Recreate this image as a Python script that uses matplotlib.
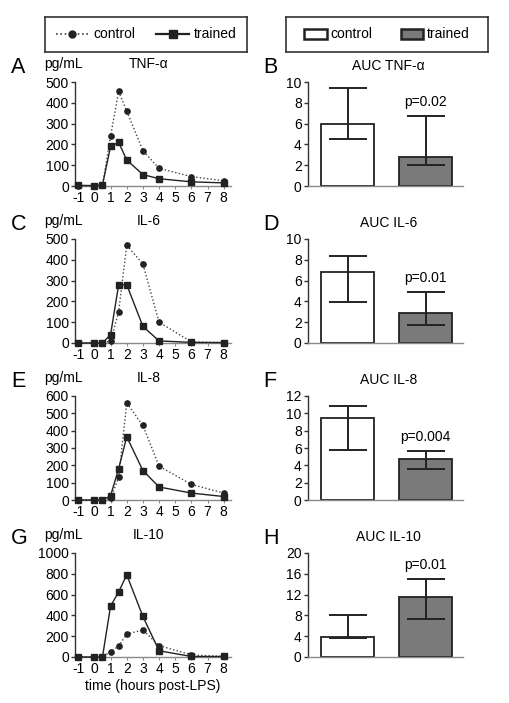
import matplotlib
matplotlib.use("Agg")
import matplotlib.pyplot as plt
from matplotlib.lines import Line2D
from matplotlib.patches import Patch
import numpy as np

plt.rcParams['font.family'] = ['Liberation Sans', 'DejaVu Sans']
plt.rcParams['font.size'] = 10
plt.rcParams['axes.unicode_minus'] = False

# time course (hours post-LPS)
hours = [-1, 0, 0.5, 1, 1.5, 2, 3, 4, 6, 8]

tnf_control = [0, 0, 5, 240, 455, 360, 170, 85, 45, 25]
tnf_trained = [3, 2, 5, 190, 210, 125, 55, 35, 20, 15]
il6_control = [0, 0, 0, 10, 150, 470, 380, 100, 5, 2]
il6_trained = [0, 0, 0, 40, 280, 280, 80, 10, 3, 2]
il8_control = [0, 0, 0, 10, 130, 560, 430, 195, 90, 40]
il8_trained = [0, 0, 0, 25, 180, 365, 170, 75, 40, 20]
il10_control = [0, 0, 0, 50, 105, 220, 260, 110, 20, 5]
il10_trained = [0, 0, 0, 490, 625, 790, 390, 60, 5, 5]

cytokines = ["TNF-\u03b1", "IL-6", "IL-8", "IL-10"]
line_ymax = [500, 500, 600, 1000]
line_step = [100, 100, 100, 200]

# AUC: median with lower / upper error limits
auc_median = [[6.0, 2.8], [6.8, 2.9], [9.5, 4.7], [3.9, 11.6]]
auc_low = [[4.5, 2.0], [3.9, 1.7], [5.8, 3.6], [3.7, 7.3]]
auc_high = [[9.4, 6.7], [8.4, 4.9], [10.9, 5.7], [8.1, 15.0]]
auc_ymax = [10, 10, 12, 20]
auc_step = [2, 2, 2, 4]
p_values = ["p=0.02", "p=0.01", "p=0.004", "p=0.01"]

left_letters = ["A", "C", "E", "G"]
right_letters = ["B", "D", "F", "H"]

controls = [tnf_control, il6_control, il8_control, il10_control]
traineds = [tnf_trained, il6_trained, il8_trained, il10_trained]

W, H = 509, 703
fig = plt.figure(figsize=(W / 100, H / 100), dpi=100)

def px_axes(x0, y0, x1, y1):
    return fig.add_axes([x0 / W, 1 - y1 / H, (x1 - x0) / W, (y1 - y0) / H])

dark = "#222222"
axis_gray = "#8a8a8a"
tops = [82, 239, 396, 553]
ax_h = 104

def style(ax):
    for s in ["top", "right"]:
        ax.spines[s].set_visible(False)
    ax.spines["left"].set_color("#333333")
    ax.spines["left"].set_linewidth(1.0)
    ax.spines["bottom"].set_color(axis_gray)
    ax.spines["bottom"].set_linewidth(1.0)
    ax.tick_params(axis="y", length=3, width=1.0, color="#333333", pad=1.5)
    ax.tick_params(axis="x", length=2, width=0.8, color=axis_gray, pad=1.5)

for i in range(4):
    # line panel
    ax = px_axes(75, tops[i], 231, tops[i] + ax_h)
    ax.plot(hours, controls[i], linestyle=(0, (1, 1.6)), color="#444444",
            linewidth=1.0, marker="o", markersize=3.8, markerfacecolor=dark,
            markeredgecolor=dark, clip_on=False, zorder=3)
    ax.plot(hours, traineds[i], linestyle="-", color=dark, linewidth=1.0,
            marker="s", markersize=5, markerfacecolor=dark,
            markeredgecolor=dark, clip_on=False, zorder=4)
    ax.set_xlim(-1.2, 8.45)
    ax.set_ylim(0, line_ymax[i])
    ax.set_xticks(range(-1, 9))
    ax.set_yticks(np.arange(0, line_ymax[i] + 1, line_step[i]))
    style(ax)
    ax.text(-0.41, 1.085, left_letters[i], transform=ax.transAxes,
            fontsize=15.5, ha="left", va="baseline")
    ax.text(-0.195, 1.13, "pg/mL", transform=ax.transAxes, ha="left", va="baseline")
    ax.text(0.47, 1.13, cytokines[i], transform=ax.transAxes, ha="center", va="baseline")
    if i == 3:
        ax.set_xlabel("time (hours post-LPS)", labelpad=2)

    # AUC bar panel
    bx = px_axes(308, tops[i], 463, tops[i] + ax_h)
    med = np.array(auc_median[i])
    lo = med - np.array(auc_low[i])
    hi = np.array(auc_high[i]) - med
    bx.bar([0, 1], med, width=0.68, color=["white", "#7a7a7a"],
           edgecolor=dark, linewidth=1.3, zorder=2)
    bx.errorbar([0, 1], med, yerr=[lo, hi], fmt="none", ecolor=dark,
                elinewidth=1.4, capsize=14, capthick=1.4, zorder=3)
    bx.set_xlim(-0.51, 1.48)
    bx.set_ylim(0, auc_ymax[i])
    bx.set_yticks(np.arange(0, auc_ymax[i] + 1, auc_step[i]))
    bx.set_xticks([])
    style(bx)
    bx.text(1, auc_high[i][1] + 0.135 * auc_ymax[i], p_values[i],
            ha="center", va="center")
    bx.text(-0.29, 1.085, right_letters[i], transform=bx.transAxes,
            fontsize=15.5, ha="left", va="baseline")
    bx.text(0.52, 1.12, "AUC " + cytokines[i], transform=bx.transAxes,
            ha="center", va="baseline")

# legends in framed boxes
def legend_box(x0, x1, handles, labels, **kw):
    lax = px_axes(x0, 17, x1, 52)
    lax.set_xticks([])
    lax.set_yticks([])
    for s in lax.spines.values():
        s.set_color("#333333")
        s.set_linewidth(1.2)
    lax.legend(handles, labels, loc="center", ncol=2, frameon=False,
               fontsize=10, **kw)

line_handles = [
    Line2D([], [], linestyle=(0, (1, 1.6)), color="#444444", linewidth=1.2,
           marker="o", markersize=5, markerfacecolor=dark, markeredgecolor=dark),
    Line2D([], [], linestyle="-", color=dark, linewidth=1.6,
           marker="s", markersize=6, markerfacecolor=dark, markeredgecolor=dark),
]
legend_box(45, 247, line_handles, ["control", "trained"],
           handlelength=2.4, handletextpad=0.3, columnspacing=1.5)

bar_handles = [
    Patch(facecolor="white", edgecolor=dark, linewidth=1.8),
    Patch(facecolor="#7a7a7a", edgecolor=dark, linewidth=1.8),
]
legend_box(286, 488, bar_handles, ["control", "trained"],
           handlelength=1.6, handleheight=0.75, handletextpad=0.3,
           columnspacing=2.0)

fig.savefig("out.png", dpi=100)
